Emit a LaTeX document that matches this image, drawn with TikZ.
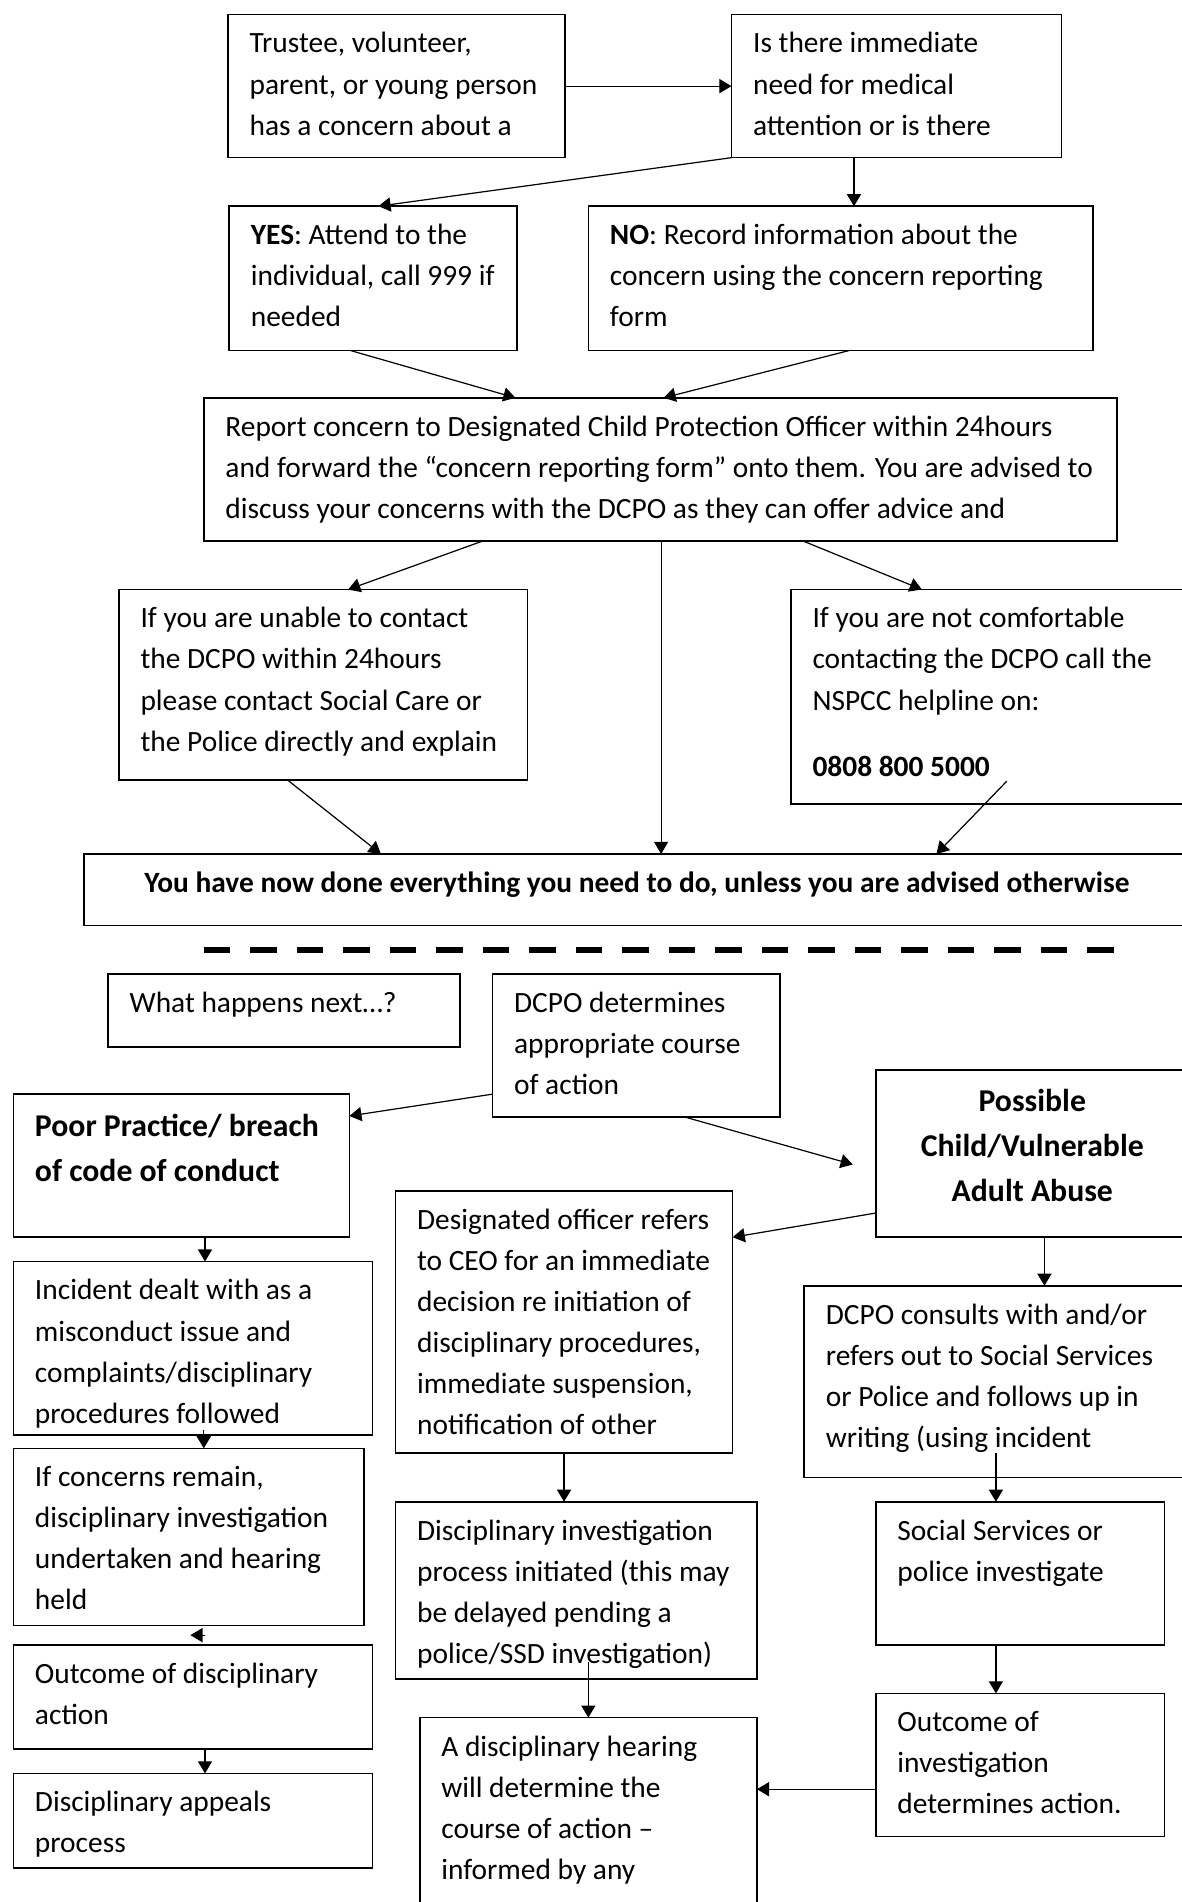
\documentclass[tikz,border=0pt]{standalone}
\usepackage{fontspec}
\setmainfont{Carlito}
\usetikzlibrary{calc, arrows.meta}
\def\pxu{0.6pt}
\newcommand{\flowfont}{\fontsize{14.55pt}{20.3pt}\selectfont}
\newcommand{\headfont}{\fontsize{15.7pt}{22.2pt}\selectfont\bfseries}
\tikzset{
	flowbox/.style={draw, line width=0.8pt, anchor=north west, inner sep=0pt, outer sep=0pt},
	flowtext/.style={anchor=north west, inner sep=0pt, align=left, font=\flowfont,
		xshift=17.5*\pxu, yshift=-14.5*\pxu},
	arrow/.style={-{Triangle[length=6pt, width=7pt]}, line width=0.6pt},
	separator/.style={line width=3pt, dash pattern=on 13.2pt off 9.8pt}
}
% box with its text set from the top left corner
\newcommand{\flowbox}[7][]{%
	\node[flowbox, minimum width=#5*\pxu, minimum height=#6*\pxu] (#2) at (#3,#4) {};
	\node[flowtext, #1] (#2-text) at (#2.north west) {#7};}

\begin{document}
\begin{tikzpicture}[x=0.6pt, y=-0.6pt]
	\useasboundingbox (0,0) rectangle (974,1568);
	% reporting a concern
	\flowbox{concern}{188}{12}{278}{118}{Trustee, volunteer,\\ parent, or young person\\ has a concern about a}
	\flowbox{medical}{603}{12}{272}{118}{Is there immediate\\ need for medical\\ attention or is there}
	\flowbox{yes}{189}{170}{237}{119}{\textbf{YES}: Attend to the\\ individual, call 999 if\\ needed}
	\flowbox{no}{485}{170}{416}{119}{\textbf{NO}: Record information about the\\ concern using the concern reporting\\ form}
	\flowbox{report}{168}{328}{753}{118}{Report concern to Designated Child Protection Officer within 24hours\\ and forward the “concern reporting form” onto them. You are advised to\\ discuss your concerns with the DCPO as they can offer advice and}
	\flowbox{unable}{98}{486}{337}{157}{If you are unable to contact\\ the DCPO within 24hours\\ please contact Social Care or\\ the Police directly and explain}
	\flowbox{helpline}{652}{486}{332}{177}{If you are not comfortable\\ contacting the DCPO call the\\ NSPCC helpline on:\\[12.6pt] \textbf{0808 800 5000}}
	\flowbox[anchor=north, align=center, xshift=438.5*\pxu]{done}{69}{704}{912}{59}{\textbf{You have now done everything you need to do, unless you are advised otherwise}}

	\draw[arrow] (concern.east) -- (medical.west);
	\draw[arrow] (medical.south west) -- ($(yes.north west)+(123,0)$);
	\draw[arrow] ($(medical.south west)+(101,0)$) -- ($(no.north west)+(219,0)$);
	\draw[arrow] ($(yes.south west)+(100,0)$) -- ($(report.north west)+(257,0)$);
	\draw[arrow] ($(no.south west)+(215,0)$) -- ($(report.north west)+(379,0)$);
	\draw[arrow] ($(report.south west)+(230,0)$) -- ($(unable.north west)+(189,0)$);
	\draw[arrow, line width=0.4pt] ($(report.south west)+(377,0)$) -- ($(done.north west)+(476,0)$);
	\draw[arrow] ($(report.south west)+(494,0)$) -- ($(helpline.north west)+(108,0)$);
	\draw[arrow] ($(unable.south west)+(139,0)$) -- ($(done.north west)+(245,0)$);
	\draw[arrow] ($(helpline.south west)+(178,-19)$) -- ($(done.north west)+(703,0)$);

	\draw[separator] (168,783) -- (921,783);

	% what happens next
	\flowbox{whatnext}{89}{803}{290}{60}{What happens next…?}
	\flowbox{decide}{406}{803}{237}{118}{DCPO determines\\ appropriate course\\ of action}
	\flowbox[font=\headfont, yshift=-1.5*\pxu]{poor}{11}{902}{277}{118}{Poor Practice/ breach\\ of code of conduct}
	\flowbox[font=\headfont, anchor=north, align=center, xshift=111.5*\pxu, yshift=-1.5*\pxu]{abuse}{722}{882}{258}{138}{Possible\\ Child/Vulnerable\\ Adult Abuse}
	\flowbox{refer}{326}{982}{278}{216}{Designated officer refers\\ to CEO for an immediate\\ decision re initiation of\\ disciplinary procedures,\\ immediate suspension,\\ notification of other}
	\flowbox{incident}{11}{1040}{296}{143}{Incident dealt with as a\\ misconduct issue and\\ complaints/disciplinary\\ procedures followed}
	\flowbox{consult}{663}{1060}{320}{158}{DCPO consults with and/or\\ refers out to Social Services\\ or Police and follows up in\\ writing (using incident}
	\flowbox{remain}{11}{1194}{289}{146}{If concerns remain,\\ disciplinary investigation\\ undertaken and hearing\\ held}
	\flowbox{process}{326}{1238}{298}{146}{Disciplinary investigation\\ process initiated (this may\\ be delayed pending a\\ police/SSD investigation)}
	\flowbox{social}{722}{1238}{238}{118}{Social Services or\\ police investigate}
	\flowbox{outcome}{11}{1356}{296}{86}{Outcome of disciplinary\\ action}
	\flowbox{hearing}{346}{1416}{278}{200}{A disciplinary hearing\\ will determine the\\ course of action –\\ informed by any}
	\flowbox{result}{722}{1396}{238}{118}{Outcome of\\ investigation\\ determines action.}
	\flowbox{appeals}{11}{1462}{296}{78}{Disciplinary appeals\\ process}

	\draw[arrow] ($(decide.north west)+(0,99)$) -- ($(poor.north east)+(0,18)$);
	\draw[arrow] ($(decide.south west)+(159,0)$) -- ($(abuse.north west)+(-19,78)$);
	\draw[arrow] ($(abuse.north west)+(0,118)$) -- ($(refer.north east)+(0,38)$);
	\draw[arrow] ($(poor.south west)+(158,0)$) -- ($(incident.north west)+(158,0)$);
	\draw[arrow] ($(abuse.south west)+(139,0)$) -- ($(consult.north west)+(198,0)$);
	\draw[arrow] ($(incident.south west)+(157,-4)$) -- ($(remain.north west)+(157,0)$);
	\draw[arrow] ($(remain.south west)+(158,8)$) -- ($(outcome.north west)+(146,-8)$);
	\draw[arrow] ($(outcome.south west)+(158,0)$) -- ($(appeals.north west)+(158,0)$);
	\draw[arrow] ($(refer.south west)+(139,0)$) -- ($(process.north west)+(139,0)$);
	\draw[arrow] ($(consult.south west)+(158,-20)$) -- ($(social.north west)+(99,0)$);
	\draw[arrow] ($(social.south west)+(99,0)$) -- ($(result.north west)+(99,0)$);
	\draw[arrow] ($(process.south west)+(159,-14)$) -- ($(hearing.north west)+(139,0)$);
	\draw[arrow] ($(result.north west)+(0,79)$) -- ($(hearing.north east)+(0,59)$);
\end{tikzpicture}
\end{document}
